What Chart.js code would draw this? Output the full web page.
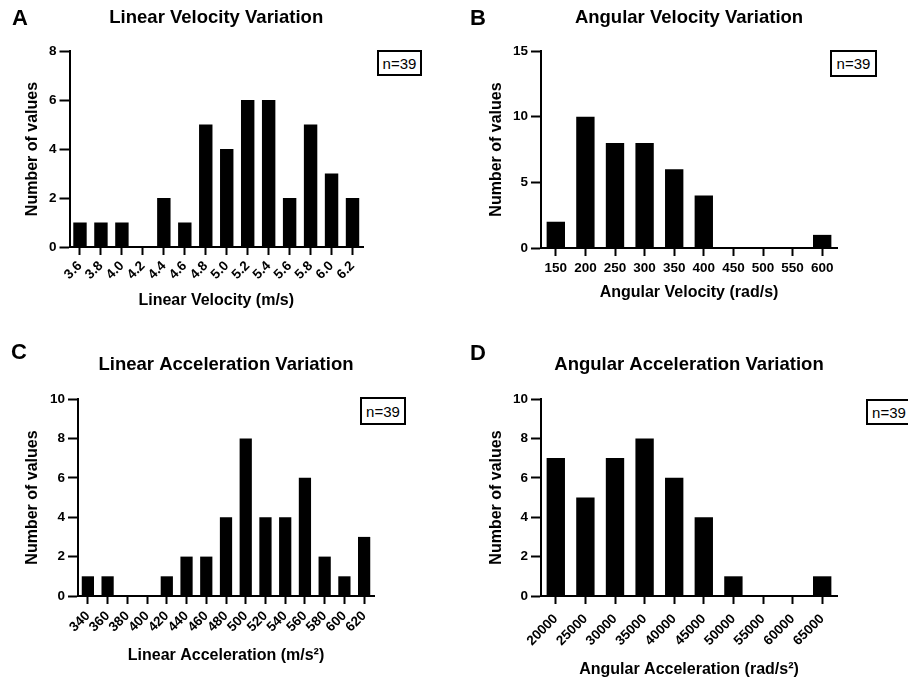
<!DOCTYPE html>
<html>
<head>
<meta charset="utf-8">
<script src="https://cdn.jsdelivr.net/npm/chart.js@4/dist/chart.umd.min.js"></script>
<style>
  html, body { margin: 0; padding: 0; background: #fff; }
  body { width: 908px; height: 679px; position: relative; overflow: hidden; font-family: "Liberation Sans", Arial, sans-serif; }
  canvas { position: absolute; }
  .letter { position: absolute; font-size: 22px; font-weight: bold; line-height: 22px; color: #000; }
  .nbox { position: absolute; box-sizing: border-box; border: 2px solid #000; font-size: 15px; display: flex; align-items: center; justify-content: center; color: #000; background: #fff; }
</style>
</head>
<body>
<canvas id="chartA" width="454" height="330" style="left:0;top:0"></canvas>
<canvas id="chartB" width="454" height="330" style="left:454px;top:0"></canvas>
<canvas id="chartC" width="454" height="349" style="left:0;top:330px"></canvas>
<canvas id="chartD" width="454" height="349" style="left:454px;top:330px"></canvas>

<div class="letter" style="left:12px;top:7px">A</div>
<div class="letter" style="left:470px;top:7px">B</div>
<div class="letter" style="left:11px;top:341px">C</div>
<div class="letter" style="left:470px;top:342px">D</div>

<div class="nbox" style="left:377px;top:50px;width:45px;height:26px">n=39</div>
<div class="nbox" style="left:830px;top:50px;width:47px;height:27px">n=39</div>
<div class="nbox" style="left:360px;top:397px;width:46px;height:28px">n=39</div>
<div class="nbox" style="left:866px;top:399px;width:46px;height:26px">n=39</div>

<script>
// Linear velocity (m/s)
const linVelBins = ["3.6", "3.8", "4.0", "4.2", "4.4", "4.6", "4.8", "5.0", "5.2", "5.4", "5.6", "5.8", "6.0", "6.2"];
const linVelCounts = [1, 1, 1, 0, 2, 1, 5, 4, 6, 6, 2, 5, 3, 2];

// Angular velocity (rad/s)
const angVelBins = ["150", "200", "250", "300", "350", "400", "450", "500", "550", "600"];
const angVelCounts = [2, 10, 8, 8, 6, 4, 0, 0, 0, 1];

// Linear acceleration (m/s^2)
const linAccBins = ["340", "360", "380", "400", "420", "440", "460", "480", "500", "520", "540", "560", "580", "600", "620"];
const linAccCounts = [1, 1, 0, 0, 1, 2, 2, 4, 8, 4, 4, 6, 2, 1, 3];

// Angular acceleration (rad/s^2)
const angAccBins = ["20000", "25000", "30000", "35000", "40000", "45000", "50000", "55000", "60000", "65000"];
const angAccCounts = [7, 5, 7, 8, 6, 4, 1, 0, 0, 1];

const FONT = "'Liberation Sans', Arial, sans-serif";

function makeHist(id, p) {
  return new Chart(document.getElementById(id), {
    type: "bar",
    data: {
      labels: p.labels,
      datasets: [{
        data: p.data,
        backgroundColor: "#000",
        borderWidth: 0,
        barPercentage: p.barPct,
        categoryPercentage: 1,
      }],
    },
    options: {
      responsive: false,
      animation: false,
      layout: { padding: { left: 0, right: p.padRight, top: 0, bottom: 0 } },
      plugins: {
        legend: { display: false },
        tooltip: { enabled: false },
        title: {
          display: true,
          text: p.title,
          fullSize: false,
          color: "#000",
          font: { family: FONT, size: 18.5, weight: "bold", lineHeight: 1.2 },
          padding: { top: p.titleTop, bottom: p.titleBottom },
        },
      },
      scales: {
        x: {
          offset: true,
          border: { color: "#000", width: 2 },
          grid: { offset: false, drawOnChartArea: false, drawTicks: true, tickLength: 8, tickColor: "#000", tickWidth: 2 },
          ticks: {
            color: "#000",
            font: { family: FONT, size: 13.5, weight: "bold" },
            padding: p.xTickPad,
            autoSkip: false,
            minRotation: p.rot,
            maxRotation: p.rot,
          },
          title: {
            display: true,
            text: p.xTitle,
            color: "#000",
            font: { family: FONT, size: 16, weight: "bold", lineHeight: 1.2 },
            padding: { top: 0, bottom: p.xTitlePad },
          },
          afterFit: (s) => { s.height = p.xHeight; },
        },
        y: {
          min: 0,
          max: p.yMax,
          border: { color: "#000", width: 2 },
          grid: { drawOnChartArea: false, drawTicks: true, tickLength: 10, tickColor: "#000", tickWidth: 2 },
          ticks: {
            stepSize: p.yStep,
            color: "#000",
            font: { family: FONT, size: 13.5, weight: "bold" },
            padding: 3,
          },
          title: {
            display: true,
            text: "Number of values",
            color: "#000",
            font: { family: FONT, size: 16, weight: "bold", lineHeight: 1.2 },
            padding: { top: p.yTitlePad, bottom: 0 },
          },
          afterFit: (s) => { s.width = p.yWidth; },
        },
      },
    },
  });
}

makeHist("chartA", {
  labels: linVelBins, data: linVelCounts, title: "Linear Velocity Variation",
  xTitle: "Linear Velocity (m/s)", yMax: 8, yStep: 2, rot: 45, barPct: 0.64,
  padRight: 91, titleTop: 6.9, titleBottom: 21.9, yWidth: 69.5, xHeight: 83,
  xTitlePad: 19.4, yTitlePad: 23.4, xTickPad: 3,
});

makeHist("chartB", {
  labels: angVelBins, data: angVelCounts, title: "Angular Velocity Variation",
  xTitle: "Angular Velocity (rad/s)", yMax: 15, yStep: 5, rot: 0, barPct: 0.62,
  padRight: 71, titleTop: 6.9, titleBottom: 21.9, yWidth: 87, xHeight: 82,
  xTitlePad: 27.4, yTitlePad: 32.9, xTickPad: 4,
});

makeHist("chartC", {
  labels: linAccBins, data: linAccCounts, title: "Linear Acceleration Variation",
  xTitle: "Linear Acceleration (m/s²)", yMax: 10, yStep: 2, rot: 45, barPct: 0.62,
  padRight: 80, titleTop: 23.9, titleBottom: 22.9, yWidth: 78, xHeight: 83,
  xTitlePad: 13.4, yTitlePad: 23.4, xTickPad: 4,
});

makeHist("chartD", {
  labels: angAccBins, data: angAccCounts, title: "Angular Acceleration Variation",
  xTitle: "Angular Acceleration (rad/s²)", yMax: 10, yStep: 2, rot: 45, barPct: 0.62,
  padRight: 71, titleTop: 23.9, titleBottom: 22.9, yWidth: 87, xHeight: 83,
  xTitlePad: 0, yTitlePad: 32.9, xTickPad: 7,
});
</script>
</body>
</html>
